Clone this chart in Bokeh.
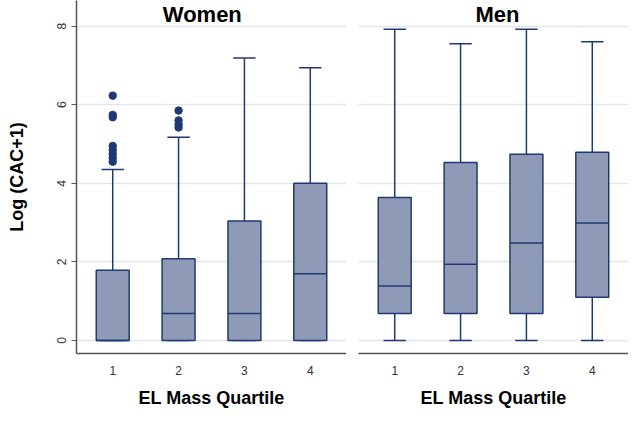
from bokeh.plotting import figure
from bokeh.layouts import row
from bokeh.models import Range1d, FixedTicker, Grid, Label
from bokeh.embed import file_html
from bokeh.resources import INLINE

# ---- data ----
quartiles = [1, 2, 3, 4]
tick_labels = ["1", "2", "3", "4"]
y_ticks = [0, 2, 4, 6, 8]

women_q1 = [0.0, 0.0, 0.0, 0.0]
women_med = [0.0, 0.69, 0.69, 1.70]
women_q3 = [1.79, 2.08, 3.04, 4.00]
women_lo = [0.0, 0.0, 0.0, 0.0]
women_hi = [4.35, 5.17, 7.19, 6.94]
women_out_x = [1, 1, 1, 1, 1, 1, 1, 1, 2, 2, 2, 2]
women_out_y = [6.23, 5.74, 5.68, 4.95, 4.85, 4.75, 4.65, 4.55, 5.85, 5.60, 5.50, 5.42]

men_q1 = [0.69, 0.69, 0.69, 1.10]
men_med = [1.39, 1.94, 2.48, 2.99]
men_q3 = [3.64, 4.53, 4.74, 4.79]
men_lo = [0.0, 0.0, 0.0, 0.0]
men_hi = [7.92, 7.55, 7.92, 7.60]
men_out_x = []
men_out_y = []

# ---- styles ----
FONT = "Liberation Sans"
LINE = "#1f3a72"
FILL = "#8f9bb6"
GRID = "#e0e5f0"
AXIS = "#555555"
BOX_W = 0.5
CAP_W = 0.34
X_RANGE = (0.45, 4.55)
Y_RANGE = (-0.33, 8.65)


def panel(title, title_x, q1, med, q3, lo, hi, ox, oy, left):
    p = figure(
        width=346 if left else 282,
        height=410,
        x_range=Range1d(*X_RANGE),
        y_range=Range1d(*Y_RANGE),
        output_backend="svg",
        toolbar_location=None,
        min_border_left=76 if left else 12,
        min_border_right=0,
        min_border_top=0,
        min_border_bottom=50,
        y_axis_location="left" if left else None,
    )
    p.outline_line_color = None
    p.background_fill_color = "white"
    p.border_fill_color = "white"

    # grid
    p.xgrid.visible = False
    if left:
        p.ygrid.ticker = FixedTicker(ticks=y_ticks)
        p.ygrid.grid_line_color = GRID
        p.ygrid.grid_line_width = 1.5
    else:
        p.add_layout(Grid(dimension=1, ticker=FixedTicker(ticks=y_ticks),
                          grid_line_color=GRID, grid_line_width=1.5))

    # x axis
    xa = p.xaxis[0]
    xa.ticker = FixedTicker(ticks=quartiles)
    xa.major_label_overrides = {q: t for q, t in zip(quartiles, tick_labels)}
    xa.axis_line_color = AXIS
    xa.axis_line_width = 1.5
    xa.major_tick_line_color = None
    xa.minor_tick_line_color = None
    xa.major_label_standoff = 6
    xa.major_label_text_font = FONT
    xa.major_label_text_font_size = "12px"
    xa.major_label_text_color = "#333333"
    xa.axis_label = "EL Mass Quartile"
    xa.axis_label_text_font = FONT
    xa.axis_label_text_font_style = "bold"
    xa.axis_label_text_font_size = "18px"
    xa.axis_label_text_color = "black"
    xa.axis_label_standoff = 10

    if left:
        ya = p.yaxis[0]
        ya.ticker = FixedTicker(ticks=y_ticks)
        ya.axis_line_color = AXIS
        ya.axis_line_width = 1.5
        ya.major_tick_line_color = AXIS
        ya.major_tick_out = 5
        ya.major_tick_in = 0
        ya.minor_tick_line_color = None
        ya.major_label_orientation = "vertical"
        ya.major_label_standoff = 5
        ya.major_label_text_font = FONT
        ya.major_label_text_font_size = "12px"
        ya.major_label_text_color = "#333333"
        ya.axis_label = "Log (CAC+1)"
        ya.axis_label_text_font = FONT
        ya.axis_label_text_font_style = "bold"
        ya.axis_label_text_font_size = "18px"
        ya.axis_label_text_color = "black"
        ya.axis_label_standoff = 28

    # whiskers
    p.segment(x0=quartiles, y0=q3, x1=quartiles, y1=hi, line_color=LINE, line_width=1.5)
    p.segment(x0=quartiles, y0=q1, x1=quartiles, y1=lo, line_color=LINE, line_width=1.5)
    cap_l = [x - CAP_W / 2 for x in quartiles]
    cap_r = [x + CAP_W / 2 for x in quartiles]
    p.segment(x0=cap_l, y0=hi, x1=cap_r, y1=hi, line_color=LINE, line_width=1.5)
    p.segment(x0=cap_l, y0=lo, x1=cap_r, y1=lo, line_color=LINE, line_width=1.5)

    # boxes
    p.vbar(x=quartiles, width=BOX_W, bottom=q1, top=q3,
           fill_color=FILL, line_color=LINE, line_width=1.5)
    box_l = [x - BOX_W / 2 for x in quartiles]
    box_r = [x + BOX_W / 2 for x in quartiles]
    p.segment(x0=box_l, y0=med, x1=box_r, y1=med, line_color=LINE, line_width=1.5)

    # outliers
    if ox:
        p.scatter(x=ox, y=oy, size=7.5, marker="circle",
                  fill_color=LINE, line_color=LINE)

    # panel title (inside the frame, like the reference)
    p.add_layout(Label(x=title_x, y=8.30, text=title, text_align="center",
                       text_baseline="alphabetic", text_font=FONT,
                       text_font_style="bold", text_font_size="22px",
                       text_color="black"))
    return p


p1 = panel("Women", 2.36, women_q1, women_med, women_q3, women_lo, women_hi,
           women_out_x, women_out_y, True)
p2 = panel("Men", 2.56, men_q1, men_med, men_q3, men_lo, men_hi,
           men_out_x, men_out_y, False)

layout = row(p1, p2, spacing=0)
open("out.html", "w").write(file_html(layout, INLINE))
